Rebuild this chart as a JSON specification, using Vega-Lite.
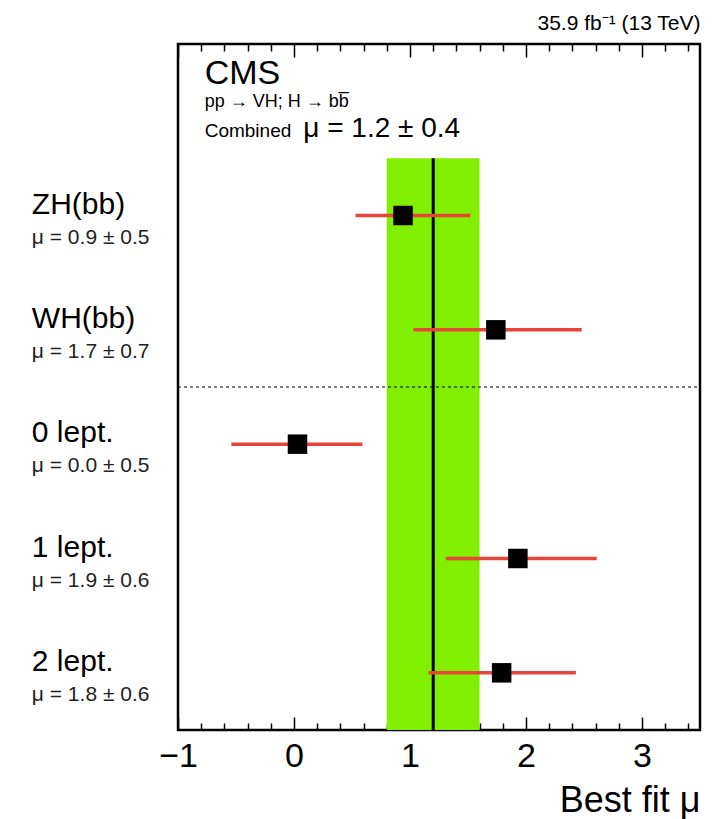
{
  "$schema": "https://vega.github.io/schema/vega-lite/v6.json",
  "autosize": "none",
  "width": 522,
  "height": 686,
  "padding": {"left": 178, "top": 44, "right": 22, "bottom": 89},
  "background": "white",
  "config": {
    "font": "Liberation Sans",
    "view": {"stroke": "black", "strokeWidth": 2.5},
    "axis": {"grid": false, "domain": false, "tickColor": "black", "tickWidth": 1.5, "labelColor": "black", "titleColor": "black", "labelFont": "Liberation Sans", "titleFont": "Liberation Sans"}
  },
  "title": {
    "text": "35.9 fb⁻¹ (13 TeV)",
    "anchor": "end",
    "fontSize": 21,
    "fontWeight": "normal",
    "font": "Liberation Sans",
    "color": "black",
    "offset": 9
  },
  "datasets": {
    "channels": [
      {"channel": "ZH(bb)", "row": 4.5, "mu": 0.94, "lo": 0.53, "hi": 1.52, "note": "μ = 0.9 ± 0.5"},
      {"channel": "WH(bb)", "row": 3.5, "mu": 1.74, "lo": 1.03, "hi": 2.48, "note": "μ = 1.7 ± 0.7"},
      {"channel": "0 lept.", "row": 2.5, "mu": 0.03, "lo": -0.54, "hi": 0.59, "note": "μ = 0.0 ± 0.5"},
      {"channel": "1 lept.", "row": 1.5, "mu": 1.93, "lo": 1.31, "hi": 2.61, "note": "μ = 1.9 ± 0.6"},
      {"channel": "2 lept.", "row": 0.5, "mu": 1.79, "lo": 1.16, "hi": 2.43, "note": "μ = 1.8 ± 0.6"}
    ],
    "combined": [
      {"mu": 1.2, "lo": 0.8, "hi": 1.6, "note": "μ = 1.2 ± 0.4"}
    ]
  },
  "resolve": {"axis": {"x": "independent"}},
  "layer": [
    {
      "data": {"name": "combined"},
      "mark": {"type": "rect", "color": "#80f000"},
      "encoding": {
        "x": {
          "field": "lo", "type": "quantitative",
          "scale": {"domain": [-1, 3.5], "nice": false, "zero": false},
          "axis": {
            "orient": "bottom",
            "values": [-1, -0.8, -0.6, -0.4, -0.2, 0, 0.2, 0.4, 0.6, 0.8, 1, 1.2, 1.4, 1.6, 1.8, 2, 2.2, 2.4, 2.6, 2.8, 3, 3.2, 3.4],
            "tickSize": {"expr": "abs(datum.value - round(datum.value)) < 0.001 ? -13 : -7"},
            "labelExpr": "abs(datum.value - round(datum.value)) < 0.001 ? format(datum.value, 'd') : ''",
            "labelFontSize": 34,
            "labelPadding": 22,
            "labelFlush": false,
            "labelOverlap": false,
            "title": "Best fit μ",
            "titleFontSize": 36,
            "titleFontWeight": "normal",
            "titleAnchor": "end",
            "titlePadding": 4
          }
        },
        "x2": {"field": "hi"},
        "y": {"datum": 0, "type": "quantitative", "scale": {"domain": [0, 6], "nice": false, "zero": false}, "axis": null},
        "y2": {"datum": 5}
      }
    },
    {
      "data": {"name": "combined"},
      "mark": {"type": "rule", "color": "black", "strokeWidth": 3},
      "encoding": {
        "x": {
          "field": "mu", "type": "quantitative",
          "axis": {
            "orient": "top",
            "values": [-1, -0.8, -0.6, -0.4, -0.2, 0, 0.2, 0.4, 0.6, 0.8, 1, 1.2, 1.4, 1.6, 1.8, 2, 2.2, 2.4, 2.6, 2.8, 3, 3.2, 3.4],
            "tickSize": {"expr": "abs(datum.value - round(datum.value)) < 0.001 ? -13 : -7"},
            "labels": false,
            "title": null
          }
        },
        "y": {"datum": 0, "type": "quantitative", "axis": null},
        "y2": {"datum": 5}
      }
    },
    {
      "data": {"values": [{}]},
      "mark": {"type": "rule", "color": "black", "strokeWidth": 1, "strokeDash": [3, 3]},
      "encoding": {
        "x": {"datum": -1, "type": "quantitative", "axis": null},
        "x2": {"datum": 3.5},
        "y": {"datum": 3, "type": "quantitative", "axis": null}
      }
    },
    {
      "data": {"name": "channels"},
      "mark": {"type": "rule", "color": "#e8453a", "strokeWidth": 3.5},
      "encoding": {
        "x": {"field": "lo", "type": "quantitative", "axis": null},
        "x2": {"field": "hi"},
        "y": {"field": "row", "type": "quantitative", "axis": null}
      }
    },
    {
      "data": {"name": "channels"},
      "mark": {"type": "point", "shape": "square", "filled": true, "color": "black", "opacity": 1, "size": 380},
      "encoding": {
        "x": {"field": "mu", "type": "quantitative", "axis": null},
        "y": {"field": "row", "type": "quantitative", "axis": null}
      }
    },
    {
      "data": {"name": "channels"},
      "mark": {"type": "text", "align": "left", "baseline": "alphabetic", "fontSize": 30, "dy": -2, "color": "black"},
      "encoding": {
        "x": {"datum": -2.26, "type": "quantitative", "axis": null},
        "y": {"field": "row", "type": "quantitative", "axis": null},
        "text": {"field": "channel"}
      }
    },
    {
      "data": {"name": "channels"},
      "mark": {"type": "text", "align": "left", "baseline": "alphabetic", "fontSize": 21, "dy": 28, "color": "#222"},
      "encoding": {
        "x": {"datum": -2.26, "type": "quantitative", "axis": null},
        "y": {"field": "row", "type": "quantitative", "axis": null},
        "text": {"field": "note"}
      }
    },
    {
      "data": {"values": [{"label": "CMS"}]},
      "mark": {"type": "text", "align": "left", "baseline": "alphabetic", "fontSize": 34, "color": "black"},
      "encoding": {
        "x": {"datum": -0.77, "type": "quantitative", "axis": null},
        "y": {"datum": 5.65, "type": "quantitative", "axis": null},
        "text": {"field": "label"}
      }
    },
    {
      "data": {"values": [{"label": "pp → VH; H → bb̅"}]},
      "mark": {"type": "text", "align": "left", "baseline": "alphabetic", "fontSize": 18, "color": "black"},
      "encoding": {
        "x": {"datum": -0.77, "type": "quantitative", "axis": null},
        "y": {"datum": 5.45, "type": "quantitative", "axis": null},
        "text": {"field": "label"}
      }
    },
    {
      "data": {"values": [{"label": "Combined"}]},
      "mark": {"type": "text", "align": "left", "baseline": "alphabetic", "fontSize": 19, "color": "black"},
      "encoding": {
        "x": {"datum": -0.77, "type": "quantitative", "axis": null},
        "y": {"datum": 5.19, "type": "quantitative", "axis": null},
        "text": {"field": "label"}
      }
    },
    {
      "data": {"name": "combined"},
      "mark": {"type": "text", "align": "left", "baseline": "alphabetic", "fontSize": 28, "color": "black"},
      "encoding": {
        "x": {"datum": 0.08, "type": "quantitative", "axis": null},
        "y": {"datum": 5.19, "type": "quantitative", "axis": null},
        "text": {"field": "note"}
      }
    }
  ]
}
